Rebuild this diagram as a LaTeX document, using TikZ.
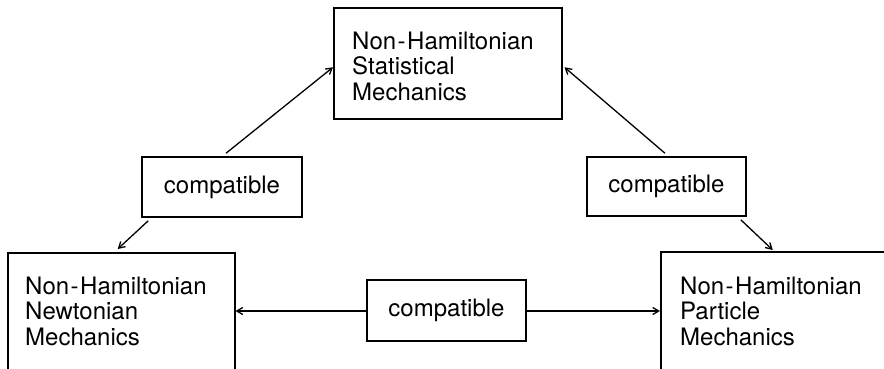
\documentclass[tikz,border=0pt]{standalone}
\usepackage{fontspec}
\setmainfont{TeX Gyre Heros}
\usetikzlibrary{arrows.meta,calc}

\tikzset{
  x=1pt, y=1pt,
  frame/.style={draw, line width=1.5pt, rectangle, inner sep=0pt},
  body/.style={inner sep=0pt, align=left, font=\fontsize{24}{25.5}\selectfont},
  tag/.style={frame, minimum width=160pt, minimum height=60pt,
              font=\fontsize{24}{26}\selectfont},
  link/.style={line width=1.3pt, -{Straight Barb[length=6pt,width=7pt,line width=1.3pt]}}
}
\newcommand{\NH}{Non\kern1.5pt-\kern1.5pt Hamiltonian}

\begin{document}
\begin{tikzpicture}
  \clip (0,0) rectangle (884,368);
  \fill[white] (0,0) rectangle (884,368);

  % three main boxes (the lower two run past the edge)
  \node[frame, minimum width=228pt, minimum height=111pt, anchor=north west]
    (stat) at (333,361) {};
  \node[body, anchor=west] (statT) at (352,302) {\NH\\Statistical\\Mechanics};

  \node[frame, minimum width=227pt, minimum height=170pt, anchor=north west]
    (newt) at (7,116) {};
  \node[body, anchor=west] (newtT) at (25,57) {\NH\\Newtonian\\Mechanics};

  \node[frame, minimum width=300pt, minimum height=170pt, anchor=north west]
    (part) at (660,117) {};
  \node[body, anchor=west] (partT) at (680,57) {\NH\\Particle\\Mechanics};

  % "compatible" boxes
  \node[tag] (cl) at (222,181) {compatible};
  \node[tag, minimum width=159pt, minimum height=59pt] (cr) at (666.5,181.5) {compatible};
  \node[tag, minimum width=159pt, minimum height=61pt] (cb) at (446.5,57.5) {compatible};

  % connectors
  \draw[link] ([xshift=4pt,yshift=3pt]cl.north) -- ([yshift=-4pt]stat.west);
  \draw[link] ([xshift=7pt,yshift=-3pt]cl.south west) -- ([xshift=-3.5pt,yshift=3pt]newt.north);
  \draw[link] ([xshift=-1.5pt,yshift=3pt]cr.north) -- ([xshift=2pt,yshift=-4pt]stat.east);
  \draw[link] ([xshift=-6pt,yshift=-3pt]cr.south east) -- ([xshift=-38pt,yshift=1pt]part.north);
  \draw[link] (cb.west |- 0,57) -- (newt.east |- 0,57);
  \draw[link] (cb.east |- 0,57) -- (part.west |- 0,57);
\end{tikzpicture}
\end{document}
